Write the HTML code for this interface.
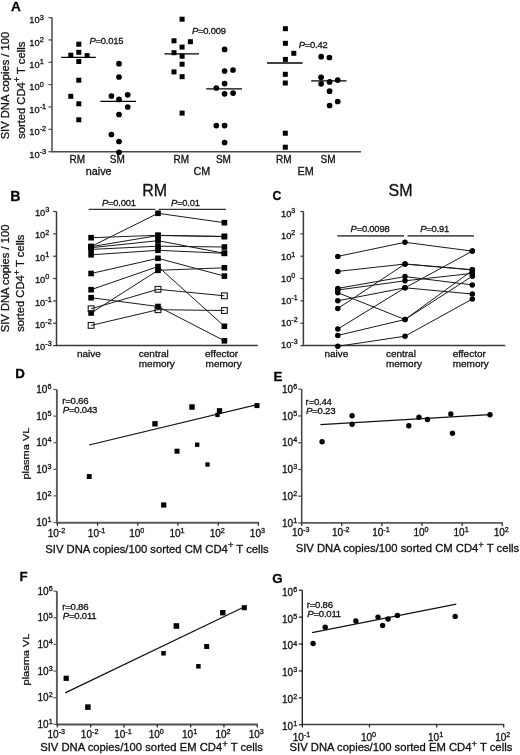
<!DOCTYPE html>
<html><head><meta charset="utf-8"><style>
html,body{margin:0;padding:0;background:#fff;}
svg{display:block;font-family:"Liberation Sans", sans-serif;will-change:transform;}
text{stroke:#111;stroke-width:0.3px;}
</style></head><body>
<svg width="520" height="755" viewBox="0 0 520 755">
<rect width="520" height="755" fill="#fff"/>
<text x="11.00" y="11.40" font-size="13.7" text-anchor="start" font-weight="bold" font-style="normal" fill="#000" >A</text>
<line x1="52.00" y1="17.60" x2="52.00" y2="152.20" stroke="#4a4a4a" stroke-width="1.5"/>
<line x1="51.40" y1="151.70" x2="361.00" y2="151.70" stroke="#4a4a4a" stroke-width="1.5"/>
<line x1="48.40" y1="17.60" x2="52.00" y2="17.60" stroke="#4a4a4a" stroke-width="1.2"/>
<text x="29.30" y="23.40" font-size="9.3" fill="#111" text-anchor="start">10<tspan font-size="7.3" dy="-3.9">3</tspan></text>
<line x1="48.40" y1="39.95" x2="52.00" y2="39.95" stroke="#4a4a4a" stroke-width="1.2"/>
<text x="29.30" y="45.75" font-size="9.3" fill="#111" text-anchor="start">10<tspan font-size="7.3" dy="-3.9">2</tspan></text>
<line x1="48.40" y1="62.30" x2="52.00" y2="62.30" stroke="#4a4a4a" stroke-width="1.2"/>
<text x="29.30" y="68.10" font-size="9.3" fill="#111" text-anchor="start">10<tspan font-size="7.3" dy="-3.9">1</tspan></text>
<line x1="48.40" y1="84.65" x2="52.00" y2="84.65" stroke="#4a4a4a" stroke-width="1.2"/>
<text x="29.30" y="90.45" font-size="9.3" fill="#111" text-anchor="start">10<tspan font-size="7.3" dy="-3.9">0</tspan></text>
<line x1="48.40" y1="107.00" x2="52.00" y2="107.00" stroke="#4a4a4a" stroke-width="1.2"/>
<text x="29.30" y="112.80" font-size="9.3" fill="#111" text-anchor="start">10<tspan font-size="7.3" dy="-3.9">-1</tspan></text>
<line x1="48.40" y1="129.35" x2="52.00" y2="129.35" stroke="#4a4a4a" stroke-width="1.2"/>
<text x="29.30" y="135.15" font-size="9.3" fill="#111" text-anchor="start">10<tspan font-size="7.3" dy="-3.9">-2</tspan></text>
<line x1="48.40" y1="151.70" x2="52.00" y2="151.70" stroke="#4a4a4a" stroke-width="1.2"/>
<text x="29.30" y="157.50" font-size="9.3" fill="#111" text-anchor="start">10<tspan font-size="7.3" dy="-3.9">-3</tspan></text>
<text font-size="11.2" fill="#111" transform="translate(8.9,85.55) rotate(-90)" text-anchor="middle">SIV DNA copies / 100</text>
<text font-size="11.2" fill="#111" transform="translate(24.5,90.3) rotate(-90)" text-anchor="middle">sorted CD4<tspan font-size="9.3" dy="-4.1">+</tspan><tspan dy="4.1"> T cells</tspan></text>
<rect x="76.30" y="41.70" width="5.00" height="5.00" fill="#000"/>
<rect x="76.30" y="49.80" width="5.00" height="5.00" fill="#000"/>
<rect x="68.30" y="52.70" width="5.00" height="5.00" fill="#000"/>
<rect x="84.60" y="53.10" width="5.00" height="5.00" fill="#000"/>
<rect x="76.30" y="59.00" width="5.00" height="5.00" fill="#000"/>
<rect x="76.30" y="77.70" width="5.00" height="5.00" fill="#000"/>
<rect x="68.30" y="93.80" width="5.00" height="5.00" fill="#000"/>
<rect x="76.30" y="101.30" width="5.00" height="5.00" fill="#000"/>
<rect x="76.30" y="117.30" width="5.00" height="5.00" fill="#000"/>
<rect x="179.60" y="16.70" width="5.00" height="5.00" fill="#000"/>
<rect x="171.50" y="38.30" width="5.00" height="5.00" fill="#000"/>
<rect x="187.90" y="39.20" width="5.00" height="5.00" fill="#000"/>
<rect x="179.60" y="44.60" width="5.00" height="5.00" fill="#000"/>
<rect x="171.50" y="50.20" width="5.00" height="5.00" fill="#000"/>
<rect x="179.60" y="53.70" width="5.00" height="5.00" fill="#000"/>
<rect x="179.60" y="61.70" width="5.00" height="5.00" fill="#000"/>
<rect x="171.50" y="69.40" width="5.00" height="5.00" fill="#000"/>
<rect x="179.60" y="74.20" width="5.00" height="5.00" fill="#000"/>
<rect x="179.60" y="110.60" width="5.00" height="5.00" fill="#000"/>
<rect x="282.90" y="26.20" width="5.00" height="5.00" fill="#000"/>
<rect x="282.90" y="40.80" width="5.00" height="5.00" fill="#000"/>
<rect x="291.30" y="50.80" width="5.00" height="5.00" fill="#000"/>
<rect x="282.90" y="56.90" width="5.00" height="5.00" fill="#000"/>
<rect x="282.80" y="71.80" width="5.00" height="5.00" fill="#000"/>
<rect x="282.80" y="80.50" width="5.00" height="5.00" fill="#000"/>
<rect x="282.80" y="130.70" width="5.00" height="5.00" fill="#000"/>
<rect x="282.80" y="144.70" width="5.00" height="5.00" fill="#000"/>
<circle cx="119.00" cy="63.70" r="2.85" fill="#000"/>
<circle cx="119.00" cy="77.00" r="2.85" fill="#000"/>
<circle cx="111.40" cy="96.00" r="2.85" fill="#000"/>
<circle cx="127.70" cy="94.80" r="2.85" fill="#000"/>
<circle cx="119.00" cy="99.40" r="2.85" fill="#000"/>
<circle cx="127.70" cy="107.00" r="2.85" fill="#000"/>
<circle cx="119.00" cy="114.50" r="2.85" fill="#000"/>
<circle cx="111.40" cy="134.50" r="2.85" fill="#000"/>
<circle cx="119.00" cy="141.50" r="2.85" fill="#000"/>
<circle cx="119.00" cy="152.30" r="2.85" fill="#000"/>
<circle cx="224.60" cy="49.40" r="2.85" fill="#000"/>
<circle cx="224.60" cy="71.00" r="2.85" fill="#000"/>
<circle cx="233.00" cy="70.00" r="2.85" fill="#000"/>
<circle cx="224.60" cy="83.60" r="2.85" fill="#000"/>
<circle cx="216.30" cy="88.00" r="2.85" fill="#000"/>
<circle cx="224.60" cy="93.80" r="2.85" fill="#000"/>
<circle cx="233.10" cy="93.10" r="2.85" fill="#000"/>
<circle cx="216.30" cy="125.60" r="2.85" fill="#000"/>
<circle cx="224.60" cy="125.60" r="2.85" fill="#000"/>
<circle cx="224.60" cy="142.50" r="2.85" fill="#000"/>
<circle cx="321.20" cy="56.70" r="2.85" fill="#000"/>
<circle cx="329.40" cy="57.50" r="2.85" fill="#000"/>
<circle cx="321.10" cy="77.30" r="2.85" fill="#000"/>
<circle cx="321.10" cy="83.80" r="2.85" fill="#000"/>
<circle cx="329.60" cy="81.90" r="2.85" fill="#000"/>
<circle cx="337.70" cy="80.10" r="2.85" fill="#000"/>
<circle cx="329.60" cy="91.20" r="2.85" fill="#000"/>
<circle cx="337.70" cy="101.50" r="2.85" fill="#000"/>
<circle cx="329.60" cy="105.50" r="2.85" fill="#000"/>
<line x1="61.20" y1="57.30" x2="95.80" y2="57.30" stroke="#000" stroke-width="1.3"/>
<line x1="100.40" y1="101.40" x2="136.00" y2="101.40" stroke="#000" stroke-width="1.3"/>
<line x1="164.40" y1="53.80" x2="199.00" y2="53.80" stroke="#000" stroke-width="1.3"/>
<line x1="206.20" y1="88.80" x2="242.00" y2="88.80" stroke="#000" stroke-width="1.3"/>
<line x1="267.00" y1="63.00" x2="302.60" y2="63.00" stroke="#000" stroke-width="1.3"/>
<line x1="311.20" y1="80.80" x2="346.50" y2="80.80" stroke="#000" stroke-width="1.3"/>
<text x="89.40" y="44.20" font-size="9.4" fill="#111" letter-spacing="-0.2"><tspan font-style="italic">P</tspan>=0.015</text>
<text x="192.00" y="33.60" font-size="9.4" fill="#111" letter-spacing="-0.2"><tspan font-style="italic">P</tspan>=0.009</text>
<text x="298.70" y="48.00" font-size="9.4" fill="#111" letter-spacing="-0.2"><tspan font-style="italic">P</tspan>=0.42</text>
<text x="77.20" y="162.50" font-size="10" text-anchor="middle" font-weight="normal" font-style="normal" fill="#111" >RM</text>
<text x="181.20" y="162.50" font-size="10" text-anchor="middle" font-weight="normal" font-style="normal" fill="#111" >RM</text>
<text x="283.70" y="162.50" font-size="10" text-anchor="middle" font-weight="normal" font-style="normal" fill="#111" >RM</text>
<text x="117.30" y="162.50" font-size="10" text-anchor="middle" font-weight="normal" font-style="normal" fill="#111" >SM</text>
<text x="223.40" y="162.50" font-size="10" text-anchor="middle" font-weight="normal" font-style="normal" fill="#111" >SM</text>
<text x="328.00" y="162.50" font-size="10" text-anchor="middle" font-weight="normal" font-style="normal" fill="#111" >SM</text>
<text x="98.70" y="174.50" font-size="10.8" text-anchor="middle" font-weight="normal" font-style="normal" fill="#111" >naive</text>
<text x="201.90" y="174.80" font-size="10.8" text-anchor="middle" font-weight="normal" font-style="normal" fill="#111" >CM</text>
<text x="305.70" y="174.80" font-size="10.8" text-anchor="middle" font-weight="normal" font-style="normal" fill="#111" >EM</text>
<text x="10.20" y="200.80" font-size="14.2" text-anchor="start" font-weight="bold" font-style="normal" fill="#000" >B</text>
<line x1="56.50" y1="211.50" x2="56.50" y2="346.10" stroke="#3a3a3a" stroke-width="1.5"/>
<line x1="55.90" y1="345.60" x2="257.80" y2="345.60" stroke="#3a3a3a" stroke-width="1.5"/>
<line x1="53.10" y1="211.50" x2="56.50" y2="211.50" stroke="#3a3a3a" stroke-width="1.2"/>
<text x="34.90" y="216.10" font-size="9.3" fill="#111" text-anchor="start">10<tspan font-size="7.3" dy="-3.9">3</tspan></text>
<line x1="53.10" y1="233.85" x2="56.50" y2="233.85" stroke="#3a3a3a" stroke-width="1.2"/>
<text x="34.90" y="238.45" font-size="9.3" fill="#111" text-anchor="start">10<tspan font-size="7.3" dy="-3.9">2</tspan></text>
<line x1="53.10" y1="256.20" x2="56.50" y2="256.20" stroke="#3a3a3a" stroke-width="1.2"/>
<text x="34.90" y="260.80" font-size="9.3" fill="#111" text-anchor="start">10<tspan font-size="7.3" dy="-3.9">1</tspan></text>
<line x1="53.10" y1="278.55" x2="56.50" y2="278.55" stroke="#3a3a3a" stroke-width="1.2"/>
<text x="34.90" y="283.15" font-size="9.3" fill="#111" text-anchor="start">10<tspan font-size="7.3" dy="-3.9">0</tspan></text>
<line x1="53.10" y1="300.90" x2="56.50" y2="300.90" stroke="#3a3a3a" stroke-width="1.2"/>
<text x="34.90" y="305.50" font-size="9.3" fill="#111" text-anchor="start">10<tspan font-size="7.3" dy="-3.9">-1</tspan></text>
<line x1="53.10" y1="323.25" x2="56.50" y2="323.25" stroke="#3a3a3a" stroke-width="1.2"/>
<text x="34.90" y="327.85" font-size="9.3" fill="#111" text-anchor="start">10<tspan font-size="7.3" dy="-3.9">-2</tspan></text>
<line x1="53.10" y1="345.60" x2="56.50" y2="345.60" stroke="#3a3a3a" stroke-width="1.2"/>
<text x="34.90" y="350.20" font-size="9.3" fill="#111" text-anchor="start">10<tspan font-size="7.3" dy="-3.9">-3</tspan></text>
<text font-size="11.2" fill="#111" transform="translate(8.9,278.4) rotate(-90)" text-anchor="middle">SIV DNA copies / 100</text>
<text font-size="11.2" fill="#111" transform="translate(23.9,283.3) rotate(-90)" text-anchor="middle">sorted CD4<tspan font-size="9.3" dy="-4.1">+</tspan><tspan dy="4.1"> T cells</tspan></text>
<text x="154.60" y="195.60" font-size="16" text-anchor="middle" font-weight="normal" font-style="normal" fill="#111" >RM</text>
<line x1="88.70" y1="209.40" x2="155.40" y2="209.40" stroke="#333" stroke-width="1.3"/>
<line x1="158.60" y1="209.40" x2="226.00" y2="209.40" stroke="#333" stroke-width="1.3"/>
<text x="102.00" y="205.60" font-size="9.4" fill="#111" letter-spacing="-0.2"><tspan font-style="italic">P</tspan>=0.001</text>
<text x="171.00" y="205.60" font-size="9.4" fill="#111" letter-spacing="-0.2"><tspan font-style="italic">P</tspan>=0.01</text>
<line x1="91.10" y1="237.70" x2="158.00" y2="235.30" stroke="#1a1a1a" stroke-width="1.0"/>
<line x1="158.00" y1="235.30" x2="224.40" y2="236.50" stroke="#1a1a1a" stroke-width="1.0"/>
<line x1="91.10" y1="246.50" x2="158.00" y2="213.30" stroke="#1a1a1a" stroke-width="1.0"/>
<line x1="158.00" y1="213.30" x2="224.40" y2="222.70" stroke="#1a1a1a" stroke-width="1.0"/>
<line x1="91.10" y1="246.70" x2="158.00" y2="235.50" stroke="#1a1a1a" stroke-width="1.0"/>
<line x1="158.00" y1="235.50" x2="224.40" y2="236.50" stroke="#1a1a1a" stroke-width="1.0"/>
<line x1="91.10" y1="247.70" x2="158.00" y2="240.70" stroke="#1a1a1a" stroke-width="1.0"/>
<line x1="158.00" y1="240.70" x2="224.40" y2="253.30" stroke="#1a1a1a" stroke-width="1.0"/>
<line x1="91.10" y1="249.40" x2="158.00" y2="246.20" stroke="#1a1a1a" stroke-width="1.0"/>
<line x1="158.00" y1="246.20" x2="224.40" y2="247.00" stroke="#1a1a1a" stroke-width="1.0"/>
<line x1="91.10" y1="254.80" x2="158.00" y2="250.30" stroke="#1a1a1a" stroke-width="1.0"/>
<line x1="158.00" y1="250.30" x2="224.40" y2="253.30" stroke="#1a1a1a" stroke-width="1.0"/>
<line x1="91.10" y1="273.50" x2="158.00" y2="258.30" stroke="#1a1a1a" stroke-width="1.0"/>
<line x1="158.00" y1="258.30" x2="224.40" y2="276.10" stroke="#1a1a1a" stroke-width="1.0"/>
<line x1="91.10" y1="289.70" x2="158.00" y2="266.50" stroke="#1a1a1a" stroke-width="1.0"/>
<line x1="158.00" y1="266.50" x2="224.40" y2="326.30" stroke="#1a1a1a" stroke-width="1.0"/>
<line x1="91.10" y1="313.00" x2="158.00" y2="270.30" stroke="#1a1a1a" stroke-width="1.0"/>
<line x1="158.00" y1="270.30" x2="224.40" y2="267.80" stroke="#1a1a1a" stroke-width="1.0"/>
<line x1="91.10" y1="297.70" x2="158.00" y2="306.50" stroke="#1a1a1a" stroke-width="1.0"/>
<line x1="158.00" y1="306.50" x2="224.40" y2="340.80" stroke="#1a1a1a" stroke-width="1.0"/>
<line x1="91.10" y1="308.80" x2="158.00" y2="289.30" stroke="#1a1a1a" stroke-width="1.0"/>
<line x1="158.00" y1="289.30" x2="224.40" y2="295.80" stroke="#1a1a1a" stroke-width="1.0"/>
<line x1="91.10" y1="325.40" x2="158.00" y2="309.70" stroke="#1a1a1a" stroke-width="1.0"/>
<line x1="158.00" y1="309.70" x2="224.40" y2="310.50" stroke="#1a1a1a" stroke-width="1.0"/>
<rect x="88.30" y="234.90" width="5.60" height="5.60" fill="#000"/>
<rect x="155.20" y="232.50" width="5.60" height="5.60" fill="#000"/>
<rect x="221.60" y="233.70" width="5.60" height="5.60" fill="#000"/>
<rect x="88.30" y="243.70" width="5.60" height="5.60" fill="#000"/>
<rect x="155.20" y="210.50" width="5.60" height="5.60" fill="#000"/>
<rect x="221.60" y="219.90" width="5.60" height="5.60" fill="#000"/>
<rect x="88.30" y="243.90" width="5.60" height="5.60" fill="#000"/>
<rect x="155.20" y="232.70" width="5.60" height="5.60" fill="#000"/>
<rect x="221.60" y="233.70" width="5.60" height="5.60" fill="#000"/>
<rect x="88.30" y="244.90" width="5.60" height="5.60" fill="#000"/>
<rect x="155.20" y="237.90" width="5.60" height="5.60" fill="#000"/>
<rect x="221.60" y="250.50" width="5.60" height="5.60" fill="#000"/>
<rect x="88.30" y="246.60" width="5.60" height="5.60" fill="#000"/>
<rect x="155.20" y="243.40" width="5.60" height="5.60" fill="#000"/>
<rect x="221.60" y="244.20" width="5.60" height="5.60" fill="#000"/>
<rect x="88.30" y="252.00" width="5.60" height="5.60" fill="#000"/>
<rect x="155.20" y="247.50" width="5.60" height="5.60" fill="#000"/>
<rect x="221.60" y="250.50" width="5.60" height="5.60" fill="#000"/>
<rect x="88.30" y="270.70" width="5.60" height="5.60" fill="#000"/>
<rect x="155.20" y="255.50" width="5.60" height="5.60" fill="#000"/>
<rect x="221.60" y="273.30" width="5.60" height="5.60" fill="#000"/>
<rect x="88.30" y="286.90" width="5.60" height="5.60" fill="#000"/>
<rect x="155.20" y="263.70" width="5.60" height="5.60" fill="#000"/>
<rect x="221.60" y="323.50" width="5.60" height="5.60" fill="#000"/>
<rect x="88.30" y="310.20" width="5.60" height="5.60" fill="#000"/>
<rect x="155.20" y="267.50" width="5.60" height="5.60" fill="#000"/>
<rect x="221.60" y="265.00" width="5.60" height="5.60" fill="#000"/>
<rect x="88.30" y="294.90" width="5.60" height="5.60" fill="#000"/>
<rect x="155.20" y="303.70" width="5.60" height="5.60" fill="#000"/>
<rect x="221.60" y="338.00" width="5.60" height="5.60" fill="#000"/>
<rect x="88.20" y="305.90" width="5.80" height="5.80" fill="none" stroke="#1a1a1a" stroke-width="1.1"/>
<rect x="155.10" y="286.40" width="5.80" height="5.80" fill="none" stroke="#1a1a1a" stroke-width="1.1"/>
<rect x="221.50" y="292.90" width="5.80" height="5.80" fill="none" stroke="#1a1a1a" stroke-width="1.1"/>
<rect x="88.20" y="322.50" width="5.80" height="5.80" fill="none" stroke="#1a1a1a" stroke-width="1.1"/>
<rect x="155.10" y="306.80" width="5.80" height="5.80" fill="none" stroke="#1a1a1a" stroke-width="1.1"/>
<rect x="221.50" y="307.60" width="5.80" height="5.80" fill="none" stroke="#1a1a1a" stroke-width="1.1"/>
<text x="0" y="0" font-size="10" fill="#111" transform="translate(77.00,357.40) scale(1,0.88)">naive</text>
<text x="0" y="0" font-size="10" fill="#111" transform="translate(138.80,356.70) scale(1,0.88)">central</text>
<text x="0" y="0" font-size="10" fill="#111" transform="translate(138.80,366.60) scale(1,0.88)">memory</text>
<text x="0" y="0" font-size="10" fill="#111" transform="translate(205.00,356.70) scale(1,0.88)">effector</text>
<text x="0" y="0" font-size="10" fill="#111" transform="translate(205.60,366.60) scale(1,0.88)">memory</text>
<text x="272.40" y="200.30" font-size="12.2" text-anchor="start" font-weight="bold" font-style="normal" fill="#000" >C</text>
<line x1="303.40" y1="211.50" x2="303.40" y2="346.10" stroke="#3a3a3a" stroke-width="1.5"/>
<line x1="302.80" y1="345.60" x2="505.20" y2="345.60" stroke="#3a3a3a" stroke-width="1.5"/>
<line x1="300.40" y1="211.50" x2="303.40" y2="211.50" stroke="#3a3a3a" stroke-width="1.2"/>
<text x="281.00" y="216.60" font-size="9.3" fill="#111" text-anchor="start">10<tspan font-size="7.0" dy="-3.9">3</tspan></text>
<line x1="300.40" y1="233.85" x2="303.40" y2="233.85" stroke="#3a3a3a" stroke-width="1.2"/>
<text x="281.00" y="238.52" font-size="9.3" fill="#111" text-anchor="start">10<tspan font-size="7.0" dy="-3.9">2</tspan></text>
<line x1="300.40" y1="256.20" x2="303.40" y2="256.20" stroke="#3a3a3a" stroke-width="1.2"/>
<text x="281.00" y="260.44" font-size="9.3" fill="#111" text-anchor="start">10<tspan font-size="7.0" dy="-3.9">1</tspan></text>
<line x1="300.40" y1="278.55" x2="303.40" y2="278.55" stroke="#3a3a3a" stroke-width="1.2"/>
<text x="281.00" y="282.36" font-size="9.3" fill="#111" text-anchor="start">10<tspan font-size="7.0" dy="-3.9">0</tspan></text>
<line x1="300.40" y1="300.90" x2="303.40" y2="300.90" stroke="#3a3a3a" stroke-width="1.2"/>
<text x="281.00" y="304.28" font-size="9.3" fill="#111" text-anchor="start">10<tspan font-size="7.0" dy="-3.9">-1</tspan></text>
<line x1="300.40" y1="323.25" x2="303.40" y2="323.25" stroke="#3a3a3a" stroke-width="1.2"/>
<text x="281.00" y="326.20" font-size="9.3" fill="#111" text-anchor="start">10<tspan font-size="7.0" dy="-3.9">-2</tspan></text>
<line x1="300.40" y1="345.60" x2="303.40" y2="345.60" stroke="#3a3a3a" stroke-width="1.2"/>
<text x="281.00" y="348.12" font-size="9.3" fill="#111" text-anchor="start">10<tspan font-size="7.0" dy="-3.9">-3</tspan></text>
<text x="400.50" y="195.60" font-size="16" text-anchor="middle" font-weight="normal" font-style="normal" fill="#111" >SM</text>
<line x1="337.40" y1="235.80" x2="404.00" y2="235.80" stroke="#555" stroke-width="1.7"/>
<line x1="407.50" y1="235.80" x2="474.00" y2="235.80" stroke="#555" stroke-width="1.7"/>
<text x="350.60" y="232.40" font-size="9.4" fill="#111" letter-spacing="-0.2"><tspan font-style="italic">P</tspan>=0.0098</text>
<text x="420.20" y="232.40" font-size="9.4" fill="#111" letter-spacing="-0.2"><tspan font-style="italic">P</tspan>=0.91</text>
<line x1="337.80" y1="256.40" x2="405.00" y2="242.30" stroke="#1a1a1a" stroke-width="1.0"/>
<line x1="405.00" y1="242.30" x2="472.30" y2="251.10" stroke="#1a1a1a" stroke-width="1.0"/>
<line x1="337.80" y1="271.40" x2="405.00" y2="264.00" stroke="#1a1a1a" stroke-width="1.0"/>
<line x1="405.00" y1="264.00" x2="472.30" y2="269.80" stroke="#1a1a1a" stroke-width="1.0"/>
<line x1="337.80" y1="288.40" x2="405.00" y2="276.60" stroke="#1a1a1a" stroke-width="1.0"/>
<line x1="405.00" y1="276.60" x2="472.30" y2="284.90" stroke="#1a1a1a" stroke-width="1.0"/>
<line x1="337.80" y1="290.00" x2="405.00" y2="280.80" stroke="#1a1a1a" stroke-width="1.0"/>
<line x1="405.00" y1="280.80" x2="472.30" y2="273.40" stroke="#1a1a1a" stroke-width="1.0"/>
<line x1="337.80" y1="292.70" x2="405.00" y2="319.50" stroke="#1a1a1a" stroke-width="1.0"/>
<line x1="405.00" y1="319.50" x2="472.30" y2="276.20" stroke="#1a1a1a" stroke-width="1.0"/>
<line x1="337.80" y1="300.80" x2="405.00" y2="287.80" stroke="#1a1a1a" stroke-width="1.0"/>
<line x1="405.00" y1="287.80" x2="472.30" y2="294.00" stroke="#1a1a1a" stroke-width="1.0"/>
<line x1="337.80" y1="308.50" x2="405.00" y2="264.00" stroke="#1a1a1a" stroke-width="1.0"/>
<line x1="405.00" y1="264.00" x2="472.30" y2="269.80" stroke="#1a1a1a" stroke-width="1.0"/>
<line x1="337.80" y1="329.00" x2="405.00" y2="287.80" stroke="#1a1a1a" stroke-width="1.0"/>
<line x1="405.00" y1="287.80" x2="472.30" y2="251.10" stroke="#1a1a1a" stroke-width="1.0"/>
<line x1="337.80" y1="335.40" x2="405.00" y2="319.50" stroke="#1a1a1a" stroke-width="1.0"/>
<line x1="405.00" y1="319.50" x2="472.30" y2="270.50" stroke="#1a1a1a" stroke-width="1.0"/>
<line x1="337.80" y1="346.30" x2="405.00" y2="336.20" stroke="#1a1a1a" stroke-width="1.0"/>
<line x1="405.00" y1="336.20" x2="472.30" y2="299.00" stroke="#1a1a1a" stroke-width="1.0"/>
<circle cx="337.80" cy="256.40" r="2.75" fill="#000"/>
<circle cx="405.00" cy="242.30" r="2.75" fill="#000"/>
<circle cx="472.30" cy="251.10" r="2.75" fill="#000"/>
<circle cx="337.80" cy="271.40" r="2.75" fill="#000"/>
<circle cx="405.00" cy="264.00" r="2.75" fill="#000"/>
<circle cx="472.30" cy="269.80" r="2.75" fill="#000"/>
<circle cx="337.80" cy="288.40" r="2.75" fill="#000"/>
<circle cx="405.00" cy="276.60" r="2.75" fill="#000"/>
<circle cx="472.30" cy="284.90" r="2.75" fill="#000"/>
<circle cx="337.80" cy="290.00" r="2.75" fill="#000"/>
<circle cx="405.00" cy="280.80" r="2.75" fill="#000"/>
<circle cx="472.30" cy="273.40" r="2.75" fill="#000"/>
<circle cx="337.80" cy="292.70" r="2.75" fill="#000"/>
<circle cx="405.00" cy="319.50" r="2.75" fill="#000"/>
<circle cx="472.30" cy="276.20" r="2.75" fill="#000"/>
<circle cx="337.80" cy="300.80" r="2.75" fill="#000"/>
<circle cx="405.00" cy="287.80" r="2.75" fill="#000"/>
<circle cx="472.30" cy="294.00" r="2.75" fill="#000"/>
<circle cx="337.80" cy="308.50" r="2.75" fill="#000"/>
<circle cx="405.00" cy="264.00" r="2.75" fill="#000"/>
<circle cx="472.30" cy="269.80" r="2.75" fill="#000"/>
<circle cx="337.80" cy="329.00" r="2.75" fill="#000"/>
<circle cx="405.00" cy="287.80" r="2.75" fill="#000"/>
<circle cx="472.30" cy="251.10" r="2.75" fill="#000"/>
<circle cx="337.80" cy="335.40" r="2.75" fill="#000"/>
<circle cx="405.00" cy="319.50" r="2.75" fill="#000"/>
<circle cx="472.30" cy="270.50" r="2.75" fill="#000"/>
<circle cx="337.80" cy="346.30" r="2.75" fill="#000"/>
<circle cx="405.00" cy="336.20" r="2.75" fill="#000"/>
<circle cx="472.30" cy="299.00" r="2.75" fill="#000"/>
<text x="0" y="0" font-size="10" fill="#111" transform="translate(324.50,357.40) scale(1,0.88)">naive</text>
<text x="0" y="0" font-size="10" fill="#111" transform="translate(385.90,357.40) scale(1,0.88)">central</text>
<text x="0" y="0" font-size="10" fill="#111" transform="translate(385.90,367.20) scale(1,0.88)">memory</text>
<text x="0" y="0" font-size="10" fill="#111" transform="translate(452.70,357.40) scale(1,0.88)">effector</text>
<text x="0" y="0" font-size="10" fill="#111" transform="translate(452.70,367.20) scale(1,0.88)">memory</text>
<text x="15.20" y="378.40" font-size="13.3" text-anchor="start" font-weight="bold" font-style="normal" fill="#000" >D</text>
<line x1="56.90" y1="389.50" x2="56.90" y2="523.20" stroke="#5a5a5a" stroke-width="1.9"/>
<line x1="56.30" y1="522.70" x2="258.90" y2="522.70" stroke="#5a5a5a" stroke-width="1.9"/>
<line x1="53.40" y1="522.50" x2="56.90" y2="522.50" stroke="#5a5a5a" stroke-width="1.2"/>
<text x="36.30" y="526.10" font-size="10" fill="#111" text-anchor="start">10<tspan font-size="7.2" dy="-3.9">1</tspan></text>
<line x1="53.40" y1="495.90" x2="56.90" y2="495.90" stroke="#5a5a5a" stroke-width="1.2"/>
<text x="36.30" y="499.50" font-size="10" fill="#111" text-anchor="start">10<tspan font-size="7.2" dy="-3.9">2</tspan></text>
<line x1="53.40" y1="469.30" x2="56.90" y2="469.30" stroke="#5a5a5a" stroke-width="1.2"/>
<text x="36.30" y="472.90" font-size="10" fill="#111" text-anchor="start">10<tspan font-size="7.2" dy="-3.9">3</tspan></text>
<line x1="53.40" y1="442.70" x2="56.90" y2="442.70" stroke="#5a5a5a" stroke-width="1.2"/>
<text x="36.30" y="446.30" font-size="10" fill="#111" text-anchor="start">10<tspan font-size="7.2" dy="-3.9">4</tspan></text>
<line x1="53.40" y1="416.10" x2="56.90" y2="416.10" stroke="#5a5a5a" stroke-width="1.2"/>
<text x="36.30" y="419.70" font-size="10" fill="#111" text-anchor="start">10<tspan font-size="7.2" dy="-3.9">5</tspan></text>
<line x1="53.40" y1="389.50" x2="56.90" y2="389.50" stroke="#5a5a5a" stroke-width="1.2"/>
<text x="36.30" y="393.10" font-size="10" fill="#111" text-anchor="start">10<tspan font-size="7.2" dy="-3.9">6</tspan></text>
<line x1="57.40" y1="522.70" x2="57.40" y2="525.70" stroke="#222" stroke-width="1.2"/>
<text x="56.40" y="536.50" font-size="10" fill="#111" text-anchor="middle">10<tspan font-size="7.2" dy="-3.9">-2</tspan></text>
<line x1="97.60" y1="522.70" x2="97.60" y2="525.70" stroke="#222" stroke-width="1.2"/>
<text x="96.60" y="536.50" font-size="10" fill="#111" text-anchor="middle">10<tspan font-size="7.2" dy="-3.9">-1</tspan></text>
<line x1="137.80" y1="522.70" x2="137.80" y2="525.70" stroke="#222" stroke-width="1.2"/>
<text x="136.80" y="536.50" font-size="10" fill="#111" text-anchor="middle">10<tspan font-size="7.2" dy="-3.9">0</tspan></text>
<line x1="178.00" y1="522.70" x2="178.00" y2="525.70" stroke="#222" stroke-width="1.2"/>
<text x="177.00" y="536.50" font-size="10" fill="#111" text-anchor="middle">10<tspan font-size="7.2" dy="-3.9">1</tspan></text>
<line x1="218.20" y1="522.70" x2="218.20" y2="525.70" stroke="#222" stroke-width="1.2"/>
<text x="217.20" y="536.50" font-size="10" fill="#111" text-anchor="middle">10<tspan font-size="7.2" dy="-3.9">2</tspan></text>
<line x1="258.40" y1="522.70" x2="258.40" y2="525.70" stroke="#222" stroke-width="1.2"/>
<text x="257.40" y="536.50" font-size="10" fill="#111" text-anchor="middle">10<tspan font-size="7.2" dy="-3.9">3</tspan></text>
<text font-size="11" fill="#111" transform="translate(28.90,453.60) rotate(-90) scale(1,0.84)" text-anchor="middle">plasma VL</text>
<text x="45.30" y="552.60" font-size="11.25" fill="#111">SIV DNA copies/100 sorted CM CD4<tspan font-size="9.5" dy="-4.2">+</tspan><tspan dy="4.2"> T cells</tspan></text>
<text x="62.30" y="404.30" font-size="9.6" fill="#111" letter-spacing="-0.25">r=0.66</text>
<text x="62.80" y="413.20" font-size="9.6" fill="#111" letter-spacing="-0.25"><tspan font-style="italic">P</tspan>=0.043</text>
<line x1="89.10" y1="445.00" x2="257.20" y2="404.60" stroke="#111" stroke-width="1.2"/>
<rect x="86.75" y="474.05" width="4.90" height="4.90" fill="#000"/>
<rect x="152.30" y="421.10" width="5.40" height="5.40" fill="#000"/>
<rect x="189.30" y="404.30" width="5.40" height="5.40" fill="#000"/>
<rect x="216.85" y="408.15" width="5.30" height="5.30" fill="#000"/>
<rect x="215.35" y="412.85" width="4.30" height="4.30" fill="#000"/>
<rect x="254.50" y="403.10" width="5.00" height="5.00" fill="#000"/>
<rect x="174.50" y="448.70" width="5.00" height="5.00" fill="#000"/>
<rect x="195.05" y="442.55" width="4.30" height="4.30" fill="#000"/>
<rect x="205.35" y="462.35" width="4.30" height="4.30" fill="#000"/>
<rect x="161.10" y="502.40" width="5.20" height="5.20" fill="#000"/>
<text x="273.40" y="380.60" font-size="13.3" text-anchor="start" font-weight="bold" font-style="normal" fill="#000" >E</text>
<line x1="301.70" y1="389.20" x2="301.70" y2="523.40" stroke="#4a4a4a" stroke-width="1.6"/>
<line x1="301.10" y1="522.90" x2="502.70" y2="522.90" stroke="#5a5a5a" stroke-width="1.9"/>
<line x1="298.20" y1="522.95" x2="301.70" y2="522.95" stroke="#4a4a4a" stroke-width="1.2"/>
<text x="282.00" y="526.55" font-size="10" fill="#111" text-anchor="start">10<tspan font-size="7.2" dy="-3.9">1</tspan></text>
<line x1="298.20" y1="496.20" x2="301.70" y2="496.20" stroke="#4a4a4a" stroke-width="1.2"/>
<text x="282.00" y="499.80" font-size="10" fill="#111" text-anchor="start">10<tspan font-size="7.2" dy="-3.9">2</tspan></text>
<line x1="298.20" y1="469.45" x2="301.70" y2="469.45" stroke="#4a4a4a" stroke-width="1.2"/>
<text x="282.00" y="473.05" font-size="10" fill="#111" text-anchor="start">10<tspan font-size="7.2" dy="-3.9">3</tspan></text>
<line x1="298.20" y1="442.70" x2="301.70" y2="442.70" stroke="#4a4a4a" stroke-width="1.2"/>
<text x="282.00" y="446.30" font-size="10" fill="#111" text-anchor="start">10<tspan font-size="7.2" dy="-3.9">4</tspan></text>
<line x1="298.20" y1="415.95" x2="301.70" y2="415.95" stroke="#4a4a4a" stroke-width="1.2"/>
<text x="282.00" y="419.55" font-size="10" fill="#111" text-anchor="start">10<tspan font-size="7.2" dy="-3.9">5</tspan></text>
<line x1="298.20" y1="389.20" x2="301.70" y2="389.20" stroke="#4a4a4a" stroke-width="1.2"/>
<text x="282.00" y="392.80" font-size="10" fill="#111" text-anchor="start">10<tspan font-size="7.2" dy="-3.9">6</tspan></text>
<line x1="301.70" y1="522.90" x2="301.70" y2="525.90" stroke="#222" stroke-width="1.2"/>
<text x="300.70" y="536.10" font-size="10" fill="#111" text-anchor="middle">10<tspan font-size="7.2" dy="-3.9">-3</tspan></text>
<line x1="341.80" y1="522.90" x2="341.80" y2="525.90" stroke="#222" stroke-width="1.2"/>
<text x="340.80" y="536.10" font-size="10" fill="#111" text-anchor="middle">10<tspan font-size="7.2" dy="-3.9">-2</tspan></text>
<line x1="381.90" y1="522.90" x2="381.90" y2="525.90" stroke="#222" stroke-width="1.2"/>
<text x="380.90" y="536.10" font-size="10" fill="#111" text-anchor="middle">10<tspan font-size="7.2" dy="-3.9">-1</tspan></text>
<line x1="422.00" y1="522.90" x2="422.00" y2="525.90" stroke="#222" stroke-width="1.2"/>
<text x="421.00" y="536.10" font-size="10" fill="#111" text-anchor="middle">10<tspan font-size="7.2" dy="-3.9">0</tspan></text>
<line x1="462.10" y1="522.90" x2="462.10" y2="525.90" stroke="#222" stroke-width="1.2"/>
<text x="461.10" y="536.10" font-size="10" fill="#111" text-anchor="middle">10<tspan font-size="7.2" dy="-3.9">1</tspan></text>
<line x1="502.20" y1="522.90" x2="502.20" y2="525.90" stroke="#222" stroke-width="1.2"/>
<text x="501.20" y="536.10" font-size="10" fill="#111" text-anchor="middle">10<tspan font-size="7.2" dy="-3.9">2</tspan></text>
<text x="295.70" y="552.00" font-size="11.25" fill="#111">SIV DNA copies/100 sorted CM CD4<tspan font-size="9.5" dy="-4.2">+</tspan><tspan dy="4.2"> T cells</tspan></text>
<text x="305.60" y="405.00" font-size="9.6" fill="#111" letter-spacing="-0.25">r=0.44</text>
<text x="306.10" y="413.90" font-size="9.6" fill="#111" letter-spacing="-0.25"><tspan font-style="italic">P</tspan>=0.23</text>
<line x1="320.40" y1="424.60" x2="490.00" y2="414.60" stroke="#111" stroke-width="1.2"/>
<circle cx="322.10" cy="441.70" r="2.70" fill="#000"/>
<circle cx="352.10" cy="415.80" r="2.70" fill="#000"/>
<circle cx="352.10" cy="424.20" r="2.70" fill="#000"/>
<circle cx="408.80" cy="425.80" r="2.70" fill="#000"/>
<circle cx="419.00" cy="417.20" r="2.70" fill="#000"/>
<circle cx="427.50" cy="419.50" r="2.70" fill="#000"/>
<circle cx="450.80" cy="414.00" r="2.70" fill="#000"/>
<circle cx="452.50" cy="433.20" r="2.70" fill="#000"/>
<circle cx="490.00" cy="414.80" r="2.70" fill="#000"/>
<text x="19.60" y="580.80" font-size="13.3" text-anchor="start" font-weight="bold" font-style="normal" fill="#000" >F</text>
<line x1="56.90" y1="591.20" x2="56.90" y2="725.00" stroke="#5a5a5a" stroke-width="1.9"/>
<line x1="56.30" y1="724.50" x2="257.78" y2="724.50" stroke="#505050" stroke-width="1.8"/>
<line x1="53.40" y1="724.30" x2="56.90" y2="724.30" stroke="#5a5a5a" stroke-width="1.2"/>
<text x="37.50" y="727.90" font-size="10" fill="#111" text-anchor="start">10<tspan font-size="7.2" dy="-3.9">1</tspan></text>
<line x1="53.40" y1="697.68" x2="56.90" y2="697.68" stroke="#5a5a5a" stroke-width="1.2"/>
<text x="37.50" y="701.28" font-size="10" fill="#111" text-anchor="start">10<tspan font-size="7.2" dy="-3.9">2</tspan></text>
<line x1="53.40" y1="671.06" x2="56.90" y2="671.06" stroke="#5a5a5a" stroke-width="1.2"/>
<text x="37.50" y="674.66" font-size="10" fill="#111" text-anchor="start">10<tspan font-size="7.2" dy="-3.9">3</tspan></text>
<line x1="53.40" y1="644.44" x2="56.90" y2="644.44" stroke="#5a5a5a" stroke-width="1.2"/>
<text x="37.50" y="648.04" font-size="10" fill="#111" text-anchor="start">10<tspan font-size="7.2" dy="-3.9">4</tspan></text>
<line x1="53.40" y1="617.82" x2="56.90" y2="617.82" stroke="#5a5a5a" stroke-width="1.2"/>
<text x="37.50" y="621.42" font-size="10" fill="#111" text-anchor="start">10<tspan font-size="7.2" dy="-3.9">5</tspan></text>
<line x1="53.40" y1="591.20" x2="56.90" y2="591.20" stroke="#5a5a5a" stroke-width="1.2"/>
<text x="37.50" y="594.80" font-size="10" fill="#111" text-anchor="start">10<tspan font-size="7.2" dy="-3.9">6</tspan></text>
<line x1="57.30" y1="724.50" x2="57.30" y2="727.50" stroke="#222" stroke-width="1.2"/>
<text x="56.30" y="738.30" font-size="10" fill="#111" text-anchor="middle">10<tspan font-size="7.2" dy="-3.9">-3</tspan></text>
<line x1="90.63" y1="724.50" x2="90.63" y2="727.50" stroke="#222" stroke-width="1.2"/>
<text x="89.63" y="738.30" font-size="10" fill="#111" text-anchor="middle">10<tspan font-size="7.2" dy="-3.9">-2</tspan></text>
<line x1="123.96" y1="724.50" x2="123.96" y2="727.50" stroke="#222" stroke-width="1.2"/>
<text x="122.96" y="738.30" font-size="10" fill="#111" text-anchor="middle">10<tspan font-size="7.2" dy="-3.9">-1</tspan></text>
<line x1="157.29" y1="724.50" x2="157.29" y2="727.50" stroke="#222" stroke-width="1.2"/>
<text x="156.29" y="738.30" font-size="10" fill="#111" text-anchor="middle">10<tspan font-size="7.2" dy="-3.9">0</tspan></text>
<line x1="190.62" y1="724.50" x2="190.62" y2="727.50" stroke="#222" stroke-width="1.2"/>
<text x="189.62" y="738.30" font-size="10" fill="#111" text-anchor="middle">10<tspan font-size="7.2" dy="-3.9">1</tspan></text>
<line x1="223.95" y1="724.50" x2="223.95" y2="727.50" stroke="#222" stroke-width="1.2"/>
<text x="222.95" y="738.30" font-size="10" fill="#111" text-anchor="middle">10<tspan font-size="7.2" dy="-3.9">2</tspan></text>
<line x1="257.28" y1="724.50" x2="257.28" y2="727.50" stroke="#222" stroke-width="1.2"/>
<text x="256.28" y="738.30" font-size="10" fill="#111" text-anchor="middle">10<tspan font-size="7.2" dy="-3.9">3</tspan></text>
<text font-size="11" fill="#111" transform="translate(29.00,659.50) rotate(-90) scale(1,0.84)" text-anchor="middle">plasma VL</text>
<text x="40.20" y="750.90" font-size="11.25" fill="#111">SIV DNA copies/100 sorted EM CD4<tspan font-size="9.5" dy="-4.2">+</tspan><tspan dy="4.2"> T cells</tspan></text>
<text x="62.30" y="609.60" font-size="9.6" fill="#111" letter-spacing="-0.25">r=0.86</text>
<text x="62.80" y="618.50" font-size="9.6" fill="#111" letter-spacing="-0.25"><tspan font-style="italic">P</tspan>=0.011</text>
<line x1="65.20" y1="692.90" x2="242.50" y2="607.80" stroke="#111" stroke-width="1.2"/>
<rect x="63.60" y="675.70" width="5.20" height="5.20" fill="#000"/>
<rect x="85.15" y="704.35" width="5.50" height="5.50" fill="#000"/>
<rect x="161.25" y="651.05" width="4.50" height="4.50" fill="#000"/>
<rect x="173.60" y="623.20" width="5.60" height="5.60" fill="#000"/>
<rect x="196.15" y="664.05" width="4.50" height="4.50" fill="#000"/>
<rect x="204.20" y="644.00" width="5.00" height="5.00" fill="#000"/>
<rect x="220.10" y="610.00" width="5.40" height="5.40" fill="#000"/>
<rect x="241.75" y="605.15" width="5.10" height="5.10" fill="#000"/>
<text x="272.30" y="582.60" font-size="13.3" text-anchor="start" font-weight="bold" font-style="normal" fill="#000" >G</text>
<line x1="302.30" y1="590.20" x2="302.30" y2="725.00" stroke="#1a1a1a" stroke-width="1.3"/>
<line x1="301.70" y1="724.50" x2="504.20" y2="724.50" stroke="#404040" stroke-width="1.6"/>
<line x1="298.80" y1="724.80" x2="302.30" y2="724.80" stroke="#1a1a1a" stroke-width="1.2"/>
<text x="282.00" y="730.20" font-size="10" fill="#111" text-anchor="start">10<tspan font-size="7.2" dy="-3.9">1</tspan></text>
<line x1="298.80" y1="697.88" x2="302.30" y2="697.88" stroke="#1a1a1a" stroke-width="1.2"/>
<text x="282.00" y="703.28" font-size="10" fill="#111" text-anchor="start">10<tspan font-size="7.2" dy="-3.9">2</tspan></text>
<line x1="298.80" y1="670.96" x2="302.30" y2="670.96" stroke="#1a1a1a" stroke-width="1.2"/>
<text x="282.00" y="676.36" font-size="10" fill="#111" text-anchor="start">10<tspan font-size="7.2" dy="-3.9">3</tspan></text>
<line x1="298.80" y1="644.04" x2="302.30" y2="644.04" stroke="#1a1a1a" stroke-width="1.2"/>
<text x="282.00" y="649.44" font-size="10" fill="#111" text-anchor="start">10<tspan font-size="7.2" dy="-3.9">4</tspan></text>
<line x1="298.80" y1="617.12" x2="302.30" y2="617.12" stroke="#1a1a1a" stroke-width="1.2"/>
<text x="282.00" y="622.52" font-size="10" fill="#111" text-anchor="start">10<tspan font-size="7.2" dy="-3.9">5</tspan></text>
<line x1="298.80" y1="590.20" x2="302.30" y2="590.20" stroke="#1a1a1a" stroke-width="1.2"/>
<text x="282.00" y="595.60" font-size="10" fill="#111" text-anchor="start">10<tspan font-size="7.2" dy="-3.9">6</tspan></text>
<line x1="302.40" y1="724.50" x2="302.40" y2="727.50" stroke="#222" stroke-width="1.2"/>
<text x="301.40" y="740.50" font-size="10" fill="#111" text-anchor="middle">10<tspan font-size="7.2" dy="-3.9">-1</tspan></text>
<line x1="369.50" y1="724.50" x2="369.50" y2="727.50" stroke="#222" stroke-width="1.2"/>
<text x="368.50" y="740.50" font-size="10" fill="#111" text-anchor="middle">10<tspan font-size="7.2" dy="-3.9">0</tspan></text>
<line x1="436.60" y1="724.50" x2="436.60" y2="727.50" stroke="#222" stroke-width="1.2"/>
<text x="435.60" y="740.50" font-size="10" fill="#111" text-anchor="middle">10<tspan font-size="7.2" dy="-3.9">1</tspan></text>
<line x1="503.70" y1="724.50" x2="503.70" y2="727.50" stroke="#222" stroke-width="1.2"/>
<text x="502.70" y="740.50" font-size="10" fill="#111" text-anchor="middle">10<tspan font-size="7.2" dy="-3.9">2</tspan></text>
<text x="289.50" y="751.20" font-size="11.25" fill="#111">SIV DNA copies/100 sorted EM CD4<tspan font-size="9.5" dy="-4.2">+</tspan><tspan dy="4.2"> T cells</tspan></text>
<text x="306.80" y="608.00" font-size="9.6" fill="#111" letter-spacing="-0.25">r=0.86</text>
<text x="307.30" y="616.90" font-size="9.6" fill="#111" letter-spacing="-0.25"><tspan font-style="italic">P</tspan>=0.011</text>
<line x1="312.10" y1="632.60" x2="456.30" y2="604.20" stroke="#111" stroke-width="1.2"/>
<circle cx="313.10" cy="643.50" r="2.70" fill="#000"/>
<circle cx="325.20" cy="627.30" r="2.70" fill="#000"/>
<circle cx="355.80" cy="621.00" r="2.70" fill="#000"/>
<circle cx="378.00" cy="617.10" r="2.70" fill="#000"/>
<circle cx="388.10" cy="619.00" r="2.70" fill="#000"/>
<circle cx="382.60" cy="625.50" r="2.70" fill="#000"/>
<circle cx="397.40" cy="615.40" r="2.70" fill="#000"/>
<circle cx="455.20" cy="616.40" r="2.70" fill="#000"/>
</svg>
</body></html>
